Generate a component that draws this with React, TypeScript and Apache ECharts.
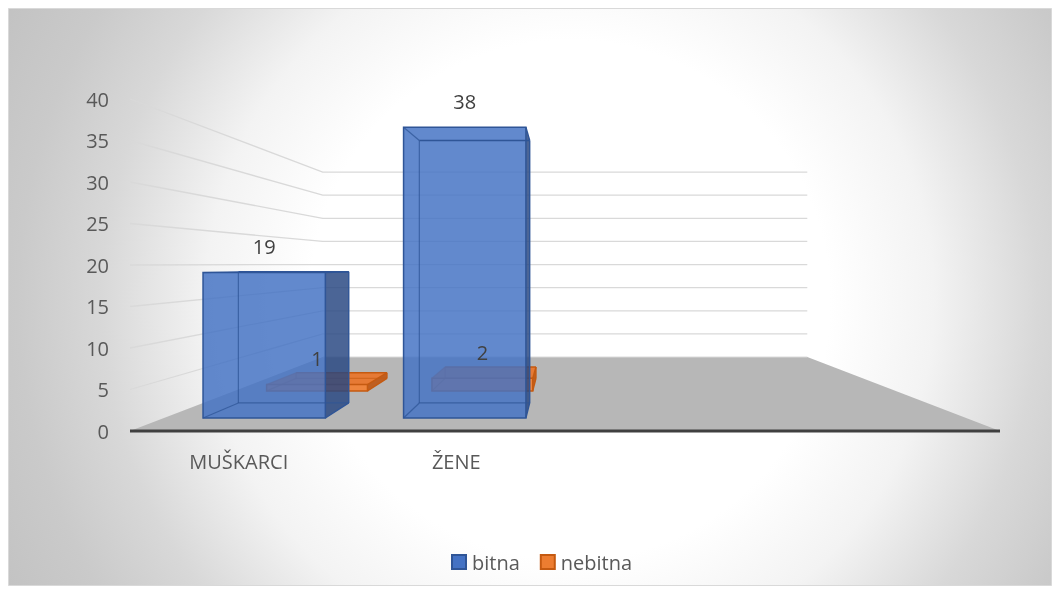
import React, { useEffect, useRef } from 'react';
import * as echarts from 'echarts';

const categories = ['MUŠKARCI', 'ŽENE', '', ''];
const legendNames = ['bitna', 'nebitna'];
const bitna = [19, 38];
const nebitna = [1, 2];
const yTicks = [0, 5, 10, 15, 20, 25, 30, 35, 40];

const FONT = '"Open Sans", "Noto Sans", sans-serif';
const FS = 20;
const VP_RATIO = 0.497;
const FLOOR_BACK = 0.557;
const BAR_RATIO = 0.61;
const ROWS = [
  {
    front: 0.922, back: 0.832,
    face: 'rgba(68,114,196,0.84)', side: 'rgba(40,72,130,0.84)', top: 'rgba(80,125,205,0.84)',
    edge: '#2F5597', backEdge: 'rgba(47,85,151,0.75)',
  },
  {
    front: 0.76, back: 0.685,
    face: 'rgba(240,130,55,0.95)', side: 'rgba(190,90,25,0.95)', top: 'rgba(232,118,45,0.95)',
    edge: '#C55A11', backEdge: 'rgba(197,90,17,0.6)',
  },
];

function vanishing(cs: any) {
  return [cs.x + cs.width / 2, cs.y + cs.height * VP_RATIO];
}
function proj(p: number[], s: number, vp: number[]) {
  return [vp[0] + s * (p[0] - vp[0]), vp[1] + s * (p[1] - vp[1])];
}

function barGeom(params: any, api: any, row: any) {
  const cs = params.coordSys;
  const vp = vanishing(cs);
  const ci = api.value(0);
  const v = api.value(1);
  const t = api.coord([ci, v]);
  const b = api.coord([ci, 0]);
  const bw = api.size([1, 0])[0] * BAR_RATIO;
  const x0 = t[0] - bw / 2, x1 = t[0] + bw / 2;
  const corners = [[x0, t[1]], [x1, t[1]], [x1, b[1]], [x0, b[1]]];
  const F = corners.map((p) => proj(p, row.front, vp));
  const B = corners.map((p) => proj(p, row.back, vp));
  return { F, B, vp };
}

function makeBarRender(rowIdx: number) {
  const row = ROWS[rowIdx];
  return (params: any, api: any) => {
    const { F, B, vp } = barGeom(params, api, row);
    const poly = (pts: number[][], fill: string) => ({
      type: 'polygon', shape: { points: pts }, style: { fill, stroke: 'none' },
    });
    const line = (a: number[], b: number[], stroke: string, w: number) => ({
      type: 'line', shape: { x1: a[0], y1: a[1], x2: b[0], y2: b[1] },
      style: { stroke, lineWidth: w },
    });
    const children: any[] = [];
    if (F[0][1] > vp[1]) children.push(poly([F[0], F[1], B[1], B[0]], row.top));
    if (F[1][0] < vp[0]) children.push(poly([F[1], B[1], B[2], F[2]], row.side));
    children.push(
      poly(F, row.face),
      line(B[0], B[3], row.backEdge, 1.2),
      line(B[3], B[2], row.backEdge, 1.2),
      line(F[0], B[0], row.backEdge, 1.2),
      line(F[3], B[3], row.backEdge, 1.2),
      line(B[0], B[1], row.edge, 1.4),
      line(F[1], B[1], row.edge, 1.4),
      line(B[1], B[2], row.edge, 1.4),
      line(F[2], B[2], row.edge, 1.4),
      { type: 'polygon', shape: { points: F }, style: { fill: 'none', stroke: row.edge, lineWidth: 1.5 } },
    );
    return { type: 'group', children };
  };
}

const labelData = [
  ...bitna.map((v, i) => [i, v, 0]),
  ...nebitna.map((v, i) => [i, v, 1]),
];

export default function App() {
  const ref = useRef<HTMLDivElement>(null);
  useEffect(() => {
    if (!ref.current) return;
    const chart = echarts.init(ref.current, null, { renderer: 'svg' });
    const bg = new echarts.graphic.RadialGradient(570, 300, 650, [
      { offset: 0, color: '#ffffff' },
      { offset: 0.4, color: '#ffffff' },
      { offset: 0.56, color: '#f3f3f3' },
      { offset: 0.72, color: '#d8d8d8' },
      { offset: 0.85, color: '#cacaca' },
      { offset: 1, color: '#c1c1c1' },
    ], true);
    chart.setOption({
      animation: false,
      graphic: [
        {
          type: 'rect', z: -100, silent: true,
          shape: { x: 8.5, y: 8.5, width: 1043, height: 577 },
          style: { fill: bg, stroke: '#d9d9d9', lineWidth: 1 },
        },
      ],
      grid: { left: 130, right: 60, top: 99, bottom: 163 },
      legend: {
        data: legendNames.map((n) => ({ name: n, icon: 'rect' })),
        left: 446, top: 547,
        itemWidth: 14, itemHeight: 14, itemGap: 20,
        textStyle: { fontSize: FS, color: '#595959', fontFamily: FONT, padding: [0, 0, 0, 1] },
      },
      xAxis: {
        type: 'category',
        data: categories,
        axisLine: { show: false },
        axisTick: { show: false },
        splitLine: { show: false },
        axisLabel: { fontSize: FS, color: '#595959', fontFamily: FONT, margin: 20 },
      },
      yAxis: {
        type: 'value', min: 0, max: 40, interval: 5,
        axisLine: { show: false }, axisTick: { show: false }, splitLine: { show: false },
        axisLabel: { fontSize: FS, color: '#595959', fontFamily: FONT, margin: 21 },
      },
      series: [
        {
          name: 'grid3d', type: 'custom', z: 1, silent: true,
          data: yTicks.map((v) => [0, v]),
          renderItem: (params: any, api: any) => {
            const cs = params.coordSys;
            const vp = vanishing(cs);
            const v = api.value(1);
            const y = api.coord([0, v])[1];
            const xL = cs.x, xR = cs.x + cs.width;
            const bl = proj([xL, y], FLOOR_BACK, vp);
            const br = proj([xR, y], FLOOR_BACK, vp);
            if (v === 0) {
              return {
                type: 'group',
                children: [
                  { type: 'polygon', shape: { points: [[xL, y], [xR, y], br, bl] }, style: { fill: '#b7b7b7', stroke: 'none' } },
                  { type: 'line', shape: { x1: bl[0], y1: bl[1], x2: br[0], y2: br[1] }, style: { stroke: '#d9d9d9', lineWidth: 1 } },
                  { type: 'line', shape: { x1: xL, y1: y, x2: xR, y2: y }, style: { stroke: '#404040', lineWidth: 3 } },
                ],
              };
            }
            return {
              type: 'polyline',
              shape: { points: [[xL, y], bl, br] },
              style: { stroke: '#d9d9d9', lineWidth: 1.3, fill: 'none' },
            };
          },
        },
        {
          name: 'nebitna', type: 'custom', z: 2,
          itemStyle: { color: '#ED7D31', borderColor: '#C55A11', borderWidth: 1 },
          data: nebitna.map((v, i) => [i, v]),
          renderItem: makeBarRender(1),
        },
        {
          name: 'bitna', type: 'custom', z: 3,
          itemStyle: { color: '#4472C4', borderColor: '#2F5597', borderWidth: 1 },
          data: bitna.map((v, i) => [i, v]),
          renderItem: makeBarRender(0),
        },
        {
          name: 'labels', type: 'custom', z: 4, silent: true,
          data: labelData,
          renderItem: (params: any, api: any) => {
            const row = ROWS[api.value(2)];
            const { F } = barGeom(params, api, row);
            return {
              type: 'text',
              style: {
                text: String(api.value(1)),
                x: (F[0][0] + F[1][0]) / 2,
                y: F[0][1] - 16,
                align: 'center',
                verticalAlign: 'bottom',
                fontSize: FS,
                fontFamily: FONT,
                fill: '#404040',
              },
            };
          },
        },
      ],
    });
    return () => chart.dispose();
  }, []);
  return (
    <div
      ref={ref}
      style={{ position: 'fixed', left: 0, top: 0, width: 1060, height: 594 }}
    />
  );
}
